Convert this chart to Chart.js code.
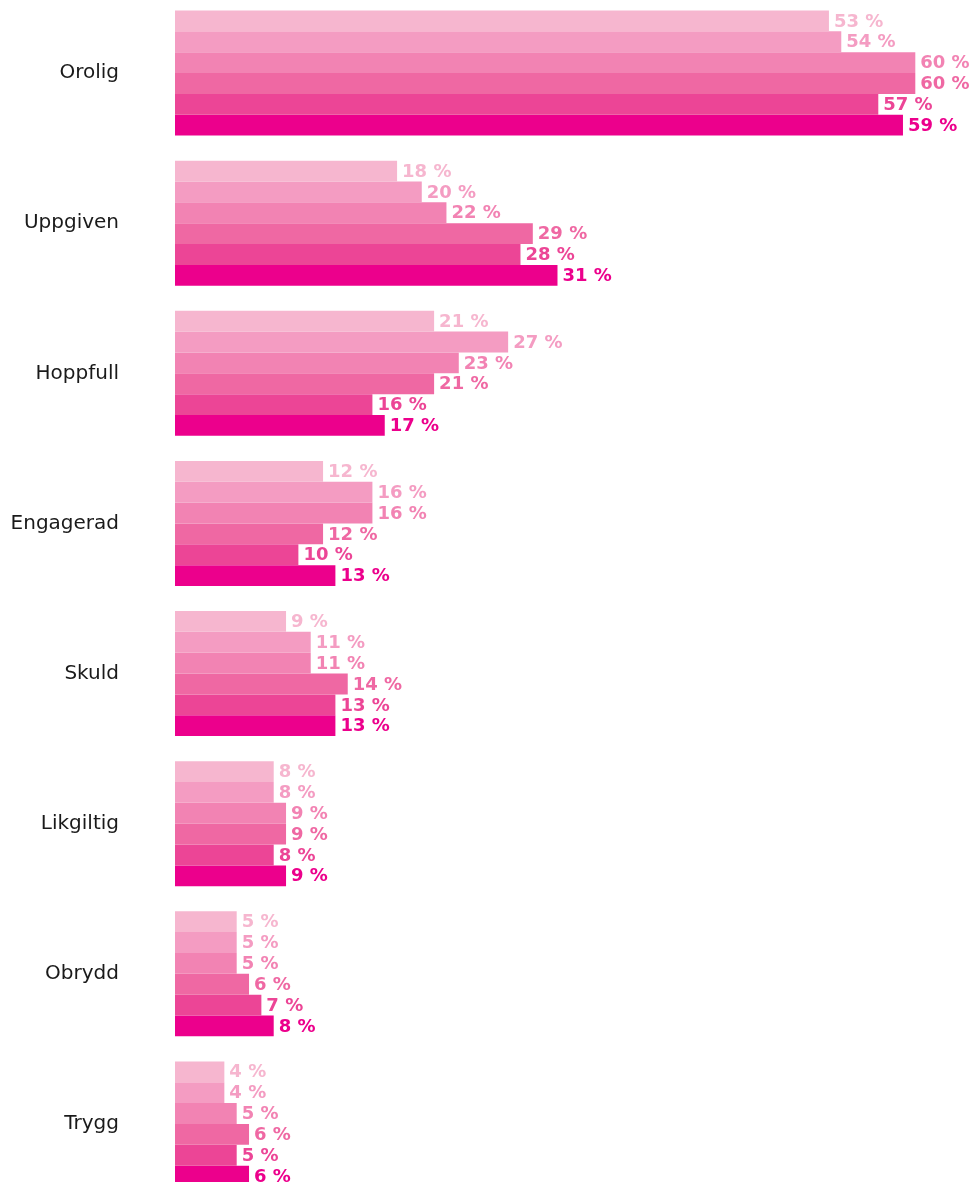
<!DOCTYPE html>
<html>
<head>
<meta charset="utf-8">
<script src="https://cdn.jsdelivr.net/npm/chart.js@4"></script>
<style>
  html, body { margin: 0; padding: 0; background: #fff; overflow: hidden; }
  #c { position: absolute; left: 0; top: -2px; }
</style>
</head>
<body>
<canvas id="c" width="979" height="1201"></canvas>
<script>
// Feelings and the share (%) reporting each, six survey waves per feeling
const categories = ['Orolig', 'Uppgiven', 'Hoppfull', 'Engagerad', 'Skuld', 'Likgiltig', 'Obrydd', 'Trygg'];
const wave1 = [53, 18, 21, 12, 9, 8, 5, 4];
const wave2 = [54, 20, 27, 16, 11, 8, 5, 4];
const wave3 = [60, 22, 23, 16, 11, 9, 5, 5];
const wave4 = [60, 29, 21, 12, 14, 9, 6, 6];
const wave5 = [57, 28, 16, 10, 13, 8, 7, 5];
const wave6 = [59, 31, 17, 13, 13, 9, 8, 6];
const colors = ['#F6B6CF', '#F49CC2', '#F283B3', '#EF68A3', '#EC4596', '#EC008C'];

const series = [wave1, wave2, wave3, wave4, wave5, wave6];

// Value labels right after each bar end, e.g. "53 %"
const valueLabels = {
  id: 'valueLabels',
  afterDatasetsDraw(chart) {
    const ctx = chart.ctx;
    ctx.save();
    ctx.font = '700 18px "DejaVu Sans", sans-serif';
    ctx.textAlign = 'left';
    ctx.textBaseline = 'middle';
    chart.data.datasets.forEach((ds, di) => {
      const meta = chart.getDatasetMeta(di);
      meta.data.forEach((bar, i) => {
        ctx.fillStyle = ds.backgroundColor;
        ctx.fillText(ds.data[i] + ' %', bar.x + 5, bar.y + 1);
      });
    });
    ctx.restore();
  }
};

new Chart(document.getElementById('c'), {
  type: 'bar',
  data: {
    labels: categories,
    datasets: series.map((d, i) => ({
      data: d,
      backgroundColor: colors[i],
      borderWidth: 0,
      barPercentage: 1.0,
      categoryPercentage: 0.8333
    }))
  },
  options: {
    indexAxis: 'y',
    responsive: false,
    animation: false,
    layout: { padding: { left: 0, right: 2, top: 0, bottom: 0 } },
    plugins: { legend: { display: false }, tooltip: { enabled: false } },
    scales: {
      x: {
        min: 0, max: 65,
        display: false,
        grid: { display: false }
      },
      y: {
        grid: { display: false, drawTicks: false },
        border: { display: false },
        ticks: {
          color: '#1a1a1a',
          padding: 56,
          font: { family: '"DejaVu Sans", sans-serif', size: 20 }
        },
        afterFit(scale) {
          scale.width = 175;
          scale.paddingTop = 0;
          scale.paddingBottom = 0;
        }
      }
    }
  },
  plugins: [valueLabels]
});
</script>
</body>
</html>
